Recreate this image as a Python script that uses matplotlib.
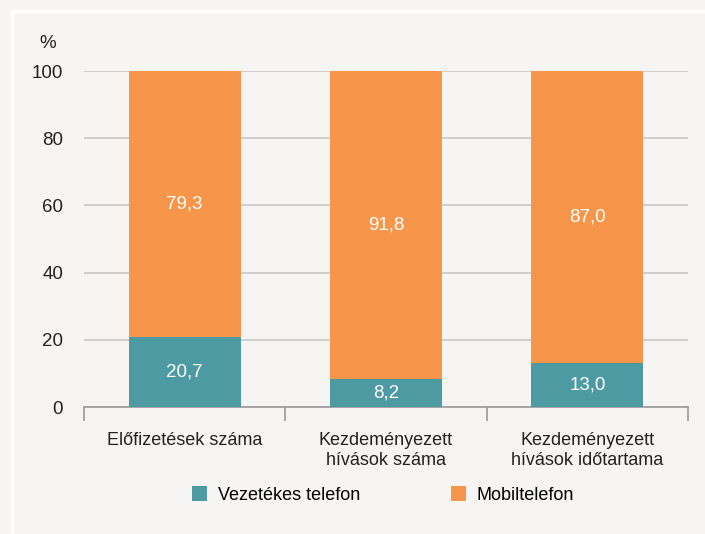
import matplotlib
matplotlib.use("Agg")
import matplotlib.pyplot as plt
from matplotlib.patches import Rectangle
import numpy as np

categories = ["Előfizetések száma", "Kezdeményezett\nhívások száma", "Kezdeményezett\nhívások időtartama"]
vezetekes = [20.7, 8.2, 13.0]
mobil = [79.3, 91.8, 87.0]
series_names = ["Vezetékes telefon", "Mobiltelefon"]
colors = ["#4e9aa2", "#f7964a"]

plt.rcParams["font.family"] = ["Liberation Sans Narrow", "Liberation Sans", "DejaVu Sans"]

bg = "#f6f5f3"
fig = plt.figure(figsize=(7.05, 5.34), dpi=100, facecolor=bg)
# white frame around the panel
fig.patches.append(Rectangle((12 / 705, -0.1), 1.2, 1 - 11 / 534 + 0.1, transform=fig.transFigure,
                             fill=False, edgecolor="white", linewidth=2.5))

ax = fig.add_axes([84 / 705, 1 - 407 / 534, 604 / 705, 336 / 534])
ax.set_facecolor(bg)

x = np.arange(len(categories))
w = 0.556
b1 = ax.bar(x, vezetekes, w, color=colors[0], label=series_names[0], zorder=3)
b2 = ax.bar(x, mobil, w, bottom=vezetekes, color=colors[1], label=series_names[1], zorder=3)

for i in range(len(categories)):
    ax.text(x[i], vezetekes[i] / 2, f"{vezetekes[i]:.1f}".replace(".", ","),
            ha="center", va="center", color="white", fontsize=13.5, zorder=4)
    ax.text(x[i], vezetekes[i] + mobil[i] / 2, f"{mobil[i]:.1f}".replace(".", ","),
            ha="center", va="center", color="white", fontsize=13.5, zorder=4)

ax.set_xlim(-0.5, len(categories) - 0.5)
ax.set_ylim(0, 100)
ax.set_yticks(range(0, 101, 20))
ax.yaxis.grid(True, color="#c8c8c8", linewidth=1.2, zorder=0)
ax.set_axisbelow(True)

ax.set_xticks(x)
ax.set_xticklabels(categories, fontsize=13, color="#222222", linespacing=1.2)
ax.tick_params(axis="x", length=0, pad=18)
ax.set_xticks(np.arange(-0.5, len(categories), 1), minor=True)
ax.tick_params(axis="x", which="minor", length=10, width=1.2, color="#999999", direction="out")
ax.tick_params(axis="y", length=0, pad=15, labelsize=13.5, labelcolor="#222222")

for s in ["top", "right", "left"]:
    ax.spines[s].set_visible(False)
ax.spines["bottom"].set_color("#999999")
ax.spines["bottom"].set_linewidth(1.2)

fig.text(48 / 705, 1 - 44 / 534, "%", ha="center", va="center", fontsize=13.5, color="#222222")

fig.legend(handles=[b1, b2], labels=series_names, loc="center", ncol=2,
           bbox_to_anchor=(383 / 705, 1 - 495 / 534), frameon=False, fontsize=13,
           handlelength=0.85, handleheight=0.85, columnspacing=5, handletextpad=0.6)

fig.savefig("out.png", dpi=100, facecolor=bg)
